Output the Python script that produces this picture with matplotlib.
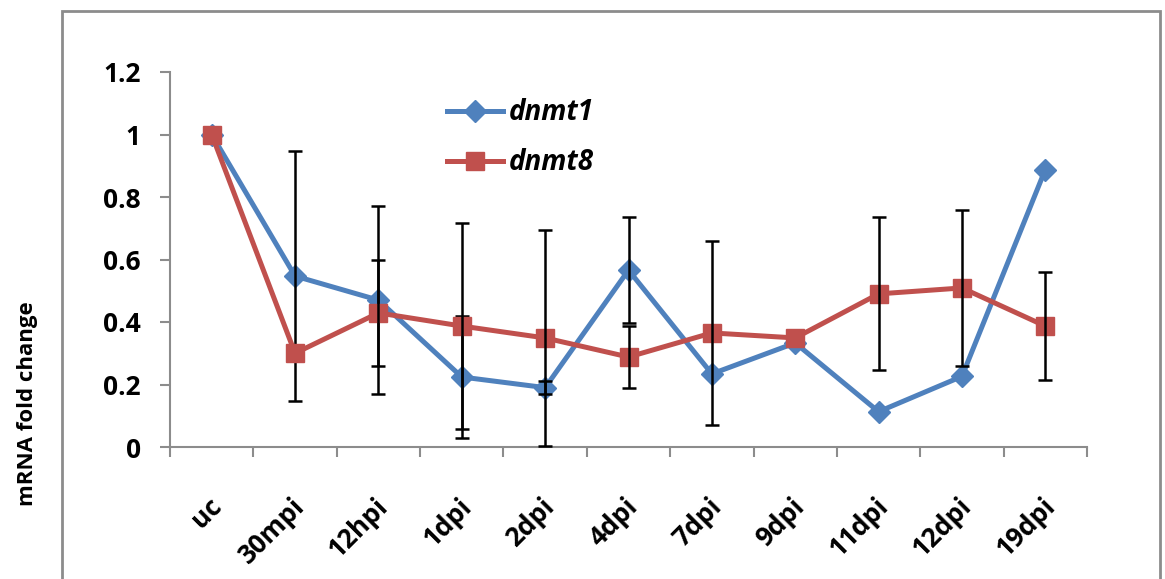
import matplotlib
matplotlib.use("Agg")
import matplotlib.pyplot as plt
from matplotlib.patches import Rectangle
from matplotlib.lines import Line2D
from matplotlib.transforms import ScaledTranslation

plt.rcParams['font.family'] = ['Open Sans', 'DejaVu Sans']

categories = ["uc", "30mpi", "12hpi", "1dpi", "2dpi", "4dpi", "7dpi", "9dpi", "11dpi", "12dpi", "19dpi"]
dnmt1 = [1.0, 0.547, 0.47, 0.224, 0.19, 0.566, 0.234, 0.333, 0.113, 0.226, 0.888]
dnmt1_err = [0.0, 0.40, 0.30, 0.195, 0.02, 0.17, 0.0, 0.0, 0.0, 0.0, 0.0]
dnmt8 = [1.0, 0.30, 0.429, 0.387, 0.349, 0.288, 0.365, 0.349, 0.49, 0.509, 0.387]
dnmt8_err = [0.0, 0.0, 0.171, 0.33, 0.345, 0.10, 0.295, 0.0, 0.245, 0.25, 0.172]

blue = "#4F81BD"
red = "#C0504D"
gray = "#8C8C8C"

W, H = 1165, 579
fig = plt.figure(figsize=(W / 100, H / 100), dpi=100)
ax = fig.add_axes([170 / W, (H - 447) / H, (1087 - 170) / W, (447 - 72) / H])

x = list(range(len(categories)))


def err_subset(vals, errs):
    xs = [i for i, e in zip(x, errs) if e > 0]
    ys = [v for v, e in zip(vals, errs) if e > 0]
    es = [e for e in errs if e > 0]
    return xs, ys, es


ax.plot(x, dnmt1, color=blue, lw=3.6, marker='D', ms=11, mec=blue, mfc=blue, zorder=2)
ex, ey, ee = err_subset(dnmt1, dnmt1_err)
ax.errorbar(ex, ey, yerr=ee, fmt='none', ecolor='black', elinewidth=1.8, capsize=5, capthick=1.8, zorder=3)
ax.plot(x, dnmt8, color=red, lw=3.6, marker='s', ms=13, mec=red, mfc=red, zorder=4)
ex, ey, ee = err_subset(dnmt8, dnmt8_err)
ax.errorbar(ex, ey, yerr=ee, fmt='none', ecolor='black', elinewidth=1.8, capsize=5, capthick=1.8, zorder=5)

ax.set_xlim(-0.5, len(categories) - 0.5)
ax.set_ylim(0, 1.2)
ax.set_yticks([0, 0.2, 0.4, 0.6, 0.8, 1.0, 1.2])
ax.set_yticklabels(["0", "0.2", "0.4", "0.6", "0.8", "1", "1.2"], fontsize=19, fontweight='bold')

ax.set_xticks(x)
ax.set_xticklabels(categories, rotation=45, ha='right', va='top', rotation_mode='anchor',
                   fontsize=19, fontweight='bold')
ax.tick_params(axis='x', length=0, pad=33)
shift = ScaledTranslation(-4 / 100, 0, fig.dpi_scale_trans)
for lbl in ax.get_xticklabels():
    lbl.set_transform(lbl.get_transform() + shift)
ax.set_xticks([i - 0.5 for i in range(len(categories) + 1)], minor=True)
ax.tick_params(axis='x', which='minor', direction='out', length=7, color=gray, width=1.5)
ax.tick_params(axis='y', direction='out', length=7, color=gray, width=1.5, pad=14)

for s in ['top', 'right']:
    ax.spines[s].set_visible(False)
for s in ['left', 'bottom']:
    ax.spines[s].set_color(gray)
    ax.spines[s].set_linewidth(1.5)

handles = [Line2D([], [], color=blue, lw=3.6, marker='D', ms=11),
           Line2D([], [], color=red, lw=3.6, marker='s', ms=13)]
leg = ax.legend(handles, ['dnmt1', 'dnmt8'], loc='upper left', bbox_to_anchor=(0.275, 0.996),
                frameon=False, handlelength=2.0, handletextpad=0.2, labelspacing=0.75,
                prop={'size': 20, 'weight': 'bold', 'style': 'italic'})

fig.text(28 / W, 1 - 404 / H, "mRNA fold change", rotation=90, ha='center', va='center',
         fontsize=16, fontweight='bold')

fig.patches.append(Rectangle((62 / W, -0.1), (1160 - 62) / W, 1.1 - 11 / H,
                             transform=fig.transFigure, fill=False, edgecolor=gray, lw=2))

fig.savefig("out.png", dpi=100)
